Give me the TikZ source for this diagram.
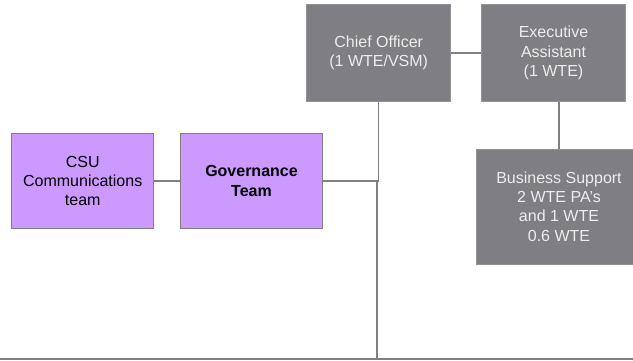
\documentclass[tikz,border=0pt]{standalone}
\usepackage{fontspec}
\setmainfont{Liberation Sans}
\usetikzlibrary{positioning}
\definecolor{boxgray}{RGB}{127,126,130}
\definecolor{teamlilac}{RGB}{204,153,255}
\definecolor{linegray}{RGB}{128,128,128}

\begin{document}
\begin{tikzpicture} [x = 1pt, y = -1pt,
    post/.style = {fill = boxgray, draw = boxgray!85!white, line width = 0.6pt,
        text = white!93!black, align = center, inner sep = 0pt,
        font = \fontsize{16}{19.3}\selectfont},
    team/.style = {fill = teamlilac, draw = linegray, line width = 1.2pt,
        text = black, align = center, inner sep = 0pt,
        minimum width = 142pt, minimum height = 95pt,
        font = \fontsize{16}{19.3}\selectfont},
    link/.style = {draw = linegray, line width = 1.2pt}]
\useasboundingbox (0,0) rectangle (633,361);
\node (chief) [post, minimum width = 144pt, minimum height = 97pt] at (378.7,53) {Chief Officer\\(1 WTE/VSM)};
\node (exec) [post, minimum width = 144pt, minimum height = 97pt] at (553.5,53) {Executive\\Assistant\\(1 WTE)};
\node (bsupp) [post, minimum width = 166pt, minimum height = 115pt] at (559,206.5) {Business Support\\2 WTE PA's\\and 1 WTE\\0.6 WTE};
\node (csu) [team] at (82.7,181) {CSU\\Communications\\team};
\node (gov) [team, font = \fontsize{16}{19.3}\selectfont\bfseries] at (251.5,181) {Governance\\Team};
\coordinate (junc) at (377,181);
\coordinate (bl) at (0,359);
\coordinate (br) at (633,359);
\path [link]
    (chief) -- (exec)
    (bsupp.north) -- (bsupp.north |- exec.south)
    (csu) -- (gov)
    (gov) -- (junc)
    (chief.south) |- (junc)
    (junc) -- (junc |- bl)
    (bl) -- (br);
\end{tikzpicture}
\end{document}
